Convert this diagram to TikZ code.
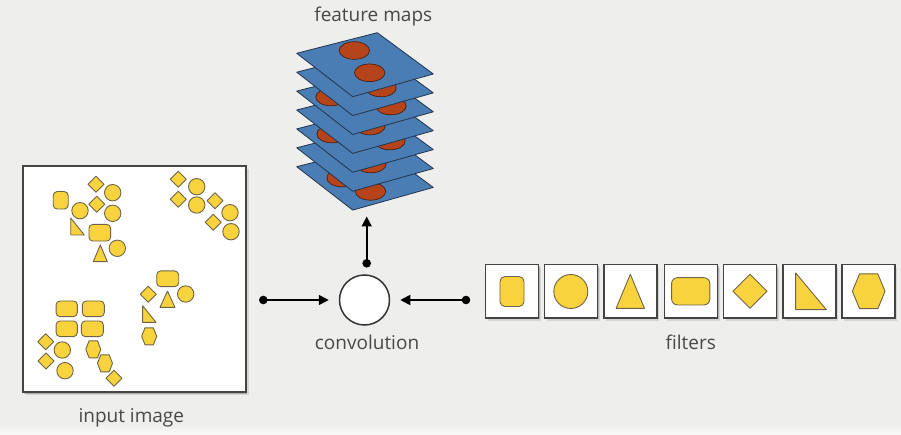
\documentclass[tikz,border=0pt]{standalone}
\usepackage{fontspec}
\setmainfont{Open Sans}
\usetikzlibrary{arrows.meta,shadows}
\definecolor{bg}{HTML}{EEEEEC}
\definecolor{shapeY}{HTML}{F8D33D}
\definecolor{shapeE}{HTML}{6F6449}
\definecolor{planeB}{HTML}{4A7DB3}
\definecolor{planeE}{HTML}{23354D}
\definecolor{ellR}{HTML}{B5441B}
\definecolor{ellE}{HTML}{4A1E10}
\definecolor{txt}{HTML}{484848}
\definecolor{boxE}{HTML}{444444}

\newcommand\YCirc[3]{\draw[yshape] (#1,#2) circle [radius=#3];}
\newcommand\YDia[3]{\draw[yshape] (#1-#3,#2) -- (#1,#2-#3) -- (#1+#3,#2) -- (#1,#2+#3) -- cycle;}
\newcommand\YRR[5]{\draw[yshape,rounded corners=#5pt] (#1-#3/2,#2-#4/2) rectangle (#1+#3/2,#2+#4/2);}
\newcommand\YTri[4]{\draw[yshape] (#1-#3/2,#2+#4/2) -- (#1,#2-#4/2) -- (#1+#3/2,#2+#4/2) -- cycle;}
\newcommand\YRTri[4]{\draw[yshape] (#1-#3/2,#2-#4/2) -- (#1-#3/2,#2+#4/2) -- (#1+#3/2,#2+#4/2) -- cycle;}
\newcommand\YHex[4]{\draw[yshape] (#1-#3/2,#2) -- (#1-0.28*#3,#2-#4/2) -- (#1+0.28*#3,#2-#4/2) -- (#1+#3/2,#2) -- (#1+0.28*#3,#2+#4/2) -- (#1-0.28*#3,#2+#4/2) -- cycle;}
\newcommand\FMEll[2]{\filldraw[ellshape] (#1,#2) ellipse [x radius=15.2, y radius=8.8];}
\newcommand\FMPlane[2]{%
  \begin{scope}[shift={(0,#1)}]
    \fill[planeB] (296.7,53.3) -- (377.3,32.7) -- (433.3,74) -- (352.7,96.7) -- cycle;
    \begin{scope}
      \clip (296.7,53.3) -- (377.3,32.7) -- (433.3,74) -- (352.7,96.7) -- cycle;
      #2
    \end{scope}
    \draw[planeline] (296.7,53.3) -- (377.3,32.7) -- (433.3,74) -- (352.7,96.7) -- cycle;
  \end{scope}}

\begin{document}
\begin{tikzpicture}[x=1pt,y=-1pt,
  yshape/.style={fill=shapeY, draw=shapeE, line width=0.9pt, line join=round},
  ellshape/.style={fill=ellR, draw=ellE, line width=0.7pt},
  planeline/.style={draw=planeE, line width=0.8pt, line join=round},
  softbox/.style={draw=boxE, fill=white, line width=1.4pt, inner sep=0pt,
    drop shadow={shadow xshift=2.6pt, shadow yshift=-3pt, fill=black, opacity=0.10},
    drop shadow={shadow xshift=1.3pt, shadow yshift=-1.6pt, fill=black, opacity=0.18}},
  lbl/.style={text=txt, font=\fontsize{19}{22}\selectfont, anchor=base, inner sep=0pt},
  dotn/.style={circle, fill=black, inner sep=0pt, minimum size=8.6pt},
  arr/.style={line width=1.8pt, -{Triangle[length=10pt,width=10pt]}},
]
\useasboundingbox (0,0) rectangle (901,435);
\fill[bg] (0,0) rectangle (901,435);
\shade[top color=bg, bottom color=white!70!bg] (0,424) rectangle (901,435);

% input image
\node[softbox, minimum width=223pt, minimum height=226pt] (img) at (134.5,279) {};
% group 1
\YRR{60.7}{200.3}{15}{17.5}{4}
\YDia{96}{184.3}{8}
\YCirc{112.7}{192.7}{8.2}
\YCirc{80}{210.7}{8.2}
\YDia{96.7}{204.3}{8}
\YCirc{112.7}{213.3}{8.2}
\YRTri{77.5}{226.5}{13.6}{17}
\YRR{99.8}{232.7}{21.7}{16.7}{4}
\YCirc{117.3}{248.3}{8.2}
\YTri{100.3}{253.3}{14}{16.7}
% group 2
\YDia{178.3}{179.3}{8}
\YCirc{196.7}{186.7}{8.2}
\YDia{178.3}{199.3}{8}
\YCirc{196.7}{205}{8.2}
\YDia{215}{200.7}{8}
\YCirc{230}{212.7}{8.2}
\YDia{213.3}{222.3}{8}
\YCirc{231}{231.7}{8.2}
% group 3
\YRR{167.7}{278.8}{22}{15.7}{4}
\YDia{148.3}{294.3}{8}
\YTri{167.5}{299.2}{15}{16.3}
\YCirc{185.7}{294}{8.2}
\YRTri{149.3}{314}{13.3}{16.6}
\YHex{149.2}{336.3}{15}{17}
% group 4
\YRR{66.7}{308.8}{21.3}{15.7}{4}
\YRR{93.3}{308.8}{22}{15.7}{4}
\YRR{66.7}{328.8}{21.3}{15.7}{4}
\YRR{92.3}{328.8}{22}{15.7}{4}
\YDia{45.7}{341.7}{8}
\YCirc{62.3}{350}{8.2}
\YDia{46}{361}{8}
\YCirc{65}{370.7}{8.2}
\YHex{93.3}{349.3}{15}{17}
\YHex{105}{363.3}{15}{17}
\YDia{114}{378.3}{8}
\node[lbl] (imglbl) at (131.3,422.7) {input image};

% feature maps
\FMPlane{113.4}{\FMEll{342}{64.6}\FMEll{370.5}{78}}
\FMPlane{94.5}{\FMEll{371}{69.5}}
\FMPlane{75.6}{\FMEll{332}{58.4}\FMEll{390}{65.4}}
\FMPlane{56.7}{\FMEll{370}{69.3}}
\FMPlane{37.8}{\FMEll{331}{59.2}\FMEll{391}{68.2}}
\FMPlane{18.9}{\FMEll{381}{69.1}}
\FMPlane{0}{\FMEll{354.3}{50.5}\FMEll{369.7}{72.8}}
\node[lbl] (fmlbl) at (373.3,21.7) {feature maps};
\coordinate (fmtip) at (366.7,216.5);

% convolution
\node[circle, draw=black!80, fill=white, line width=1.5pt, minimum size=50pt, inner sep=0pt] (conv) at (364.5,300) {};
\node[lbl] (convlbl) at (367,349.3) {convolution};
\node[dotn] (ld) at (263.3,300) {};
\node[dotn] (rd) at (466,300) {};
\node[dotn] (ud) at (366.7,263.3) {};
\draw[arr, shorten >=10pt] (ld.center) -- (conv);
\draw[arr, shorten >=10pt] (rd.center) -- (conv);
\draw[arr] (ud.center) -- (fmtip);

% filters
\foreach \i/\x in {1/511.7,2/570.8,3/630.3,4/690.7,5/750,6/809.3,7/868.3}
  \node[softbox, minimum size=53pt] (f\i) at (\x,291.3) {};
\YRR{512}{291.5}{24}{30}{5}
\YCirc{570.8}{291.5}{17}
\YTri{630.3}{291.3}{28.3}{34}
\YRR{690.7}{291.3}{38.3}{27.3}{6}
\YDia{750}{291.3}{17}
\YRTri{811}{291.3}{30.7}{36.7}
\YHex{868.7}{291.3}{32.7}{34.7}
\node[lbl] (filtlbl) at (690.7,349.3) {filters};
\end{tikzpicture}
\end{document}
